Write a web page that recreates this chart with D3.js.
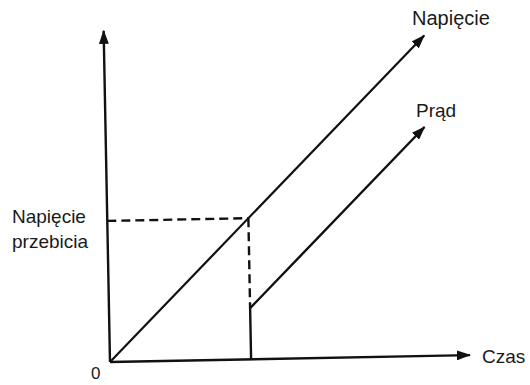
<!DOCTYPE html>
<html>
<head>
<meta charset="utf-8">
<script src="https://cdn.jsdelivr.net/npm/d3@7"></script>
<style>
  body { margin: 0; background: #fff; }
  text { font-family: "Liberation Sans", Arial, sans-serif; fill: #1a1a1a; }
</style>
</head>
<body>
<div id="chart"></div>
<script>
// data (time / value units, same scale on both axes)
var axisEnd = {time: 10, value: 9.2};
var breakdown = {time: 3.92, value: 3.92};
var voltageLine = [[0, 0], [8.9, 8.9]];
var currentLine = [[3.92, 0], [3.92, 1.42], [8.86, 6.36]];
var labels = ["Napięcie", "Prąd", "Czas", "0", "Napięcie", "przebicia"];

var width = 530, height = 385;
var origin = {x: 110, y: 362};

var svg = d3.select("#chart").append("svg")
  .attr("width", width)
  .attr("height", height);

// arrow head
svg.append("defs").append("marker")
  .attr("id", "arrow")
  .attr("markerUnits", "userSpaceOnUse")
  .attr("viewBox", "0 0 14 10")
  .attr("refX", 13)
  .attr("refY", 5)
  .attr("markerWidth", 14)
  .attr("markerHeight", 10)
  .attr("orient", "auto")
  .append("path")
  .attr("d", "M0,0 L14,5 L0,10 Z")
  .attr("fill", "#111");

var x = d3.scaleLinear().domain([0, 10]).range([0, 360]);
var y = d3.scaleLinear().domain([0, 10]).range([0, -360]);

// scan is slightly tilted
var g = svg.append("g")
  .attr("transform", "translate(" + origin.x + "," + origin.y + ") rotate(-1.1)");

var line = d3.line()
  .x(function(d) { return x(d[0]); })
  .y(function(d) { return y(d[1]); });

// axes
g.append("path")
  .attr("d", line([[0, 0], [axisEnd.time, 0]]))
  .attr("stroke", "#111").attr("stroke-width", 2.4).attr("fill", "none")
  .attr("marker-end", "url(#arrow)");
g.append("path")
  .attr("d", line([[0, 0], [0, axisEnd.value]]))
  .attr("stroke", "#111").attr("stroke-width", 2.4).attr("fill", "none")
  .attr("marker-end", "url(#arrow)");

// dashed guides
g.append("path")
  .attr("d", line([[0, breakdown.value], [breakdown.time, breakdown.value]]))
  .attr("stroke", "#111").attr("stroke-width", 2.4).attr("fill", "none")
  .attr("stroke-dasharray", "9,5");
g.append("path")
  .attr("d", line([[breakdown.time, breakdown.value], [breakdown.time, currentLine[1][1]]]))
  .attr("stroke", "#111").attr("stroke-width", 2.4).attr("fill", "none")
  .attr("stroke-dasharray", "9,5");

// voltage and current
g.append("path")
  .attr("d", line(voltageLine))
  .attr("stroke", "#111").attr("stroke-width", 2.2).attr("fill", "none")
  .attr("marker-end", "url(#arrow)");
g.append("path")
  .attr("d", line(currentLine))
  .attr("stroke", "#111").attr("stroke-width", 2.4).attr("fill", "none")
  .attr("stroke-linejoin", "miter")
  .attr("marker-end", "url(#arrow)");

// labels
svg.append("text").attr("x", 412).attr("y", 25).attr("font-size", 20).text(labels[0]);
svg.append("text").attr("x", 416).attr("y", 117).attr("font-size", 19).text(labels[1]);
svg.append("text").attr("x", 482).attr("y", 363).attr("font-size", 19).text(labels[2]);
svg.append("text").attr("x", 91).attr("y", 379).attr("font-size", 17).text(labels[3]);
svg.append("text").attr("x", 12).attr("y", 223).attr("font-size", 19).text(labels[4]);
svg.append("text").attr("x", 12).attr("y", 248).attr("font-size", 19).text(labels[5]);
</script>
</body>
</html>
